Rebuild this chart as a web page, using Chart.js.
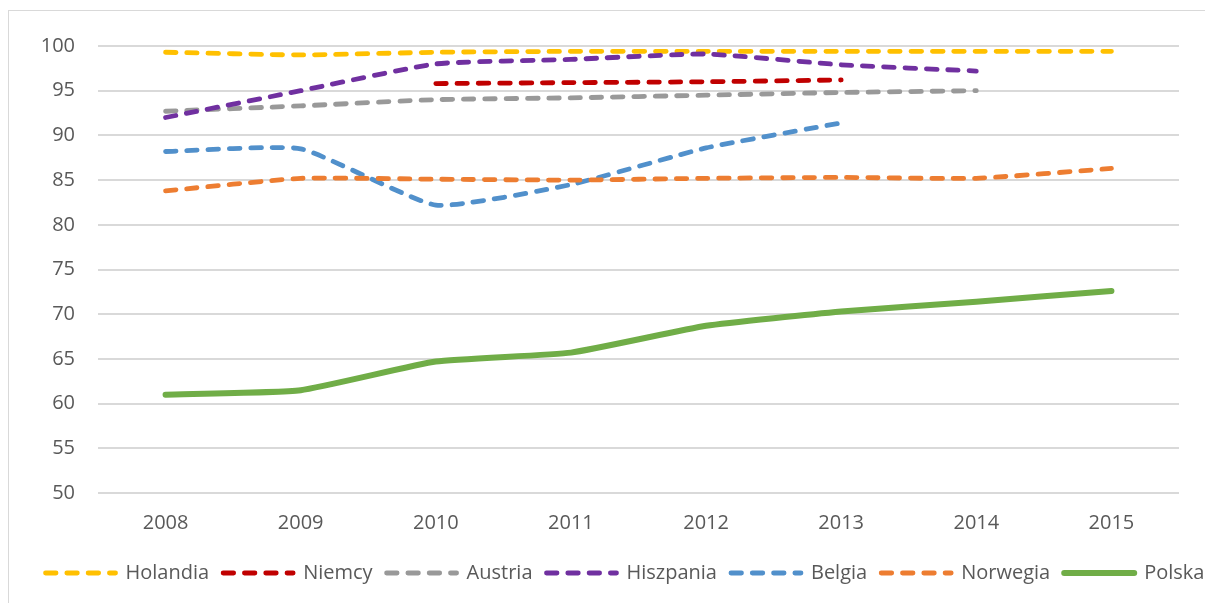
<!DOCTYPE html>
<html>
<head>
<meta charset="utf-8">
<script src="https://cdn.jsdelivr.net/npm/chart.js@4"></script>
<style>
html, body { margin: 0; padding: 0; background: #fff; overflow: hidden; }
#wrap { position: absolute; left: 8px; top: 10px; width: 1232px; height: 600px; border: 1px solid #d9d9d9; }
</style>
</head>
<body>
<div id="wrap"><canvas id="chart" width="1232" height="600"></canvas></div>
<script>
const years = ['2008', '2009', '2010', '2011', '2012', '2013', '2014', '2015'];

const holandia  = [99.3, 99.0, 99.3, 99.4, 99.4, 99.4, 99.4, 99.4];
const niemcy    = [null, null, 95.8, 95.9, 96.0, 96.2, null, null];
const austria   = [92.7, 93.3, 94.0, 94.2, 94.5, 94.8, 95.0, null];
const hiszpania = [92.0, 95.0, 98.0, 98.5, 99.1, 97.9, 97.2, null];
const belgia    = [88.2, 88.5, 82.2, 84.5, 88.6, 91.4, null, null];
const norwegia  = [83.8, 85.2, 85.1, 85.0, 85.2, 85.3, 85.2, 86.3];
const polska    = [61.0, 61.5, 64.7, 65.7, 68.7, 70.3, 71.4, 72.6];

const dash = [10.5, 10.8];

function dashed(label, data, color, order) {
    return {
        label: label,
        data: data,
        borderColor: color,
        backgroundColor: color,
        borderWidth: 4.8,
        borderDash: dash,
        borderCapStyle: 'round',
        pointRadius: 0,
        tension: 0.15,
        fill: false,
        order: order
    };
}

const ctx = document.getElementById('chart').getContext('2d');

const chart = new Chart(ctx, {
    type: 'line',
    data: {
        labels: years,
        datasets: [
            dashed('Holandia', holandia, '#FFC000', 7),
            dashed('Niemcy', niemcy, '#C00000', 6),
            dashed('Austria', austria, '#999999', 5),
            dashed('Hiszpania', hiszpania, '#7030A0', 4),
            dashed('Belgia', belgia, '#5190CB', 3),
            dashed('Norwegia', norwegia, '#ED7D31', 2),
            {
                label: 'Polska',
                data: polska,
                borderColor: '#70AD47',
                backgroundColor: '#70AD47',
                borderWidth: 6,
                borderDash: [],
                borderCapStyle: 'round',
                pointRadius: 0,
                tension: 0.15,
                fill: false,
                order: 1
            }
        ]
    },
    options: {
        responsive: false,
        animation: false,
        layout: {
            padding: { top: 30, left: 0, right: 0, bottom: 18 }
        },
        scales: {
            x: {
                offset: true,
                grid: { display: false, drawTicks: false },
                border: { display: false },
                ticks: {
                    padding: 18,
                    color: '#595959',
                    font: { family: 'Open Sans', size: 20 }
                },
                afterFit: (scale) => { scale.height -= 4; }
            },
            y: {
                min: 50,
                max: 100,
                grid: { color: '#d9d9d9', lineWidth: 2, drawTicks: false },
                border: { display: false },
                ticks: {
                    stepSize: 5,
                    padding: 23,
                    color: '#595959',
                    font: { family: 'Open Sans', size: 20 }
                },
                afterFit: (scale) => { scale.width = 89; }
            },
            // empty right-hand space, the chart frame is wider than the plot
            spacer: {
                type: 'linear',
                position: 'right',
                grid: { display: false, drawTicks: false },
                border: { display: false },
                ticks: { display: false },
                afterFit: (scale) => { scale.width = 62; }
            }
        },
        plugins: {
            tooltip: { enabled: false },
            legend: {
                position: 'bottom',
                labels: {
                    usePointStyle: true,
                    pointStyle: 'line',
                    pointStyleWidth: 70,
                    padding: 14,
                    color: '#595959',
                    font: { family: 'Open Sans', size: 20 },
                    sort: (a, b) => a.datasetIndex - b.datasetIndex,
                    // point style drops the dash, put it back from the dataset
                    generateLabels: (chart) => {
                        const items = Chart.defaults.plugins.legend.labels.generateLabels(chart);
                        items.forEach(item => {
                            const ds = chart.data.datasets[item.datasetIndex];
                            item.lineDash = ds.borderDash;
                            item.lineCap = 'round';
                            item.lineWidth = ds.borderWidth;
                            item.strokeStyle = ds.borderColor;
                        });
                        return items;
                    }
                }
            }
        }
    }
});
</script>
</body>
</html>
